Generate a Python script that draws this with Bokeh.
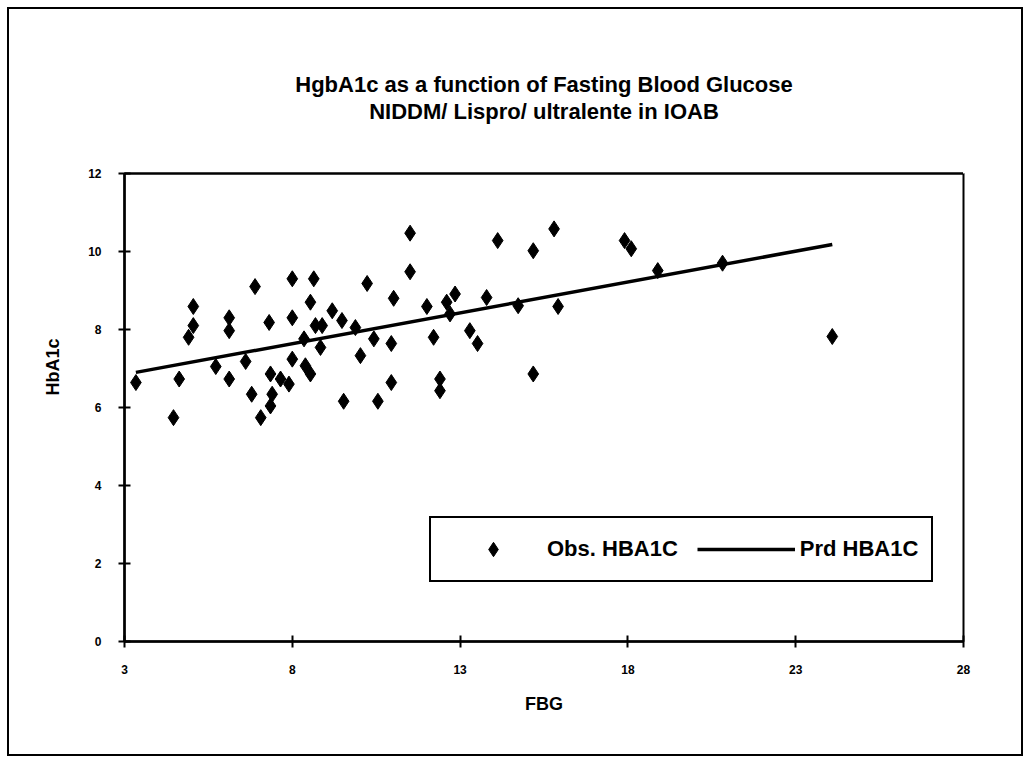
import math
from bokeh.plotting import figure
from bokeh.models import Range1d, FixedTicker, Legend, LegendItem, Title, LinearAxis
from bokeh.embed import file_html
from bokeh.resources import INLINE

# ---- data ----
fbg = [3.34, 4.63, 4.46, 5.05, 5.05, 4.91, 6.12, 6.12, 5.72, 6.12,
       6.61, 6.79, 6.89, 7.06, 7.31, 7.35, 7.40, 7.35, 7.65, 7.90,
       8.00, 8.00, 8.00, 8.35, 8.39, 8.54, 8.54, 8.64, 8.69, 8.89,
       8.84, 9.19, 9.48, 9.53, 9.88, 10.03, 10.23, 10.43, 10.55, 10.95,
       10.95, 11.02, 11.51, 11.51, 12.01, 12.21, 12.40, 12.40, 12.60, 12.85,
       12.70, 13.29, 13.52, 13.79, 14.12, 14.73, 15.18, 15.18, 15.80, 15.92,
       17.90, 18.10, 18.89, 20.82, 24.09]
hba1c = [6.64, 6.73, 5.74, 8.59, 8.10, 7.80, 8.30, 7.97, 7.05, 6.73,
         7.18, 6.34, 9.10, 5.74, 8.18, 6.86, 6.34, 6.04, 6.73, 6.60,
         9.30, 8.30, 7.24, 7.76, 7.07, 6.86, 8.70, 9.30, 8.10, 8.10,
         7.54, 8.48, 8.23, 6.16, 8.05, 7.33, 9.18, 7.76, 6.16, 7.64,
         6.64, 8.80, 10.47, 9.48, 8.59, 7.80, 6.73, 6.43, 8.70, 8.91,
         8.40, 7.97, 7.64, 8.82, 10.28, 8.61, 10.02, 6.86, 10.58, 8.59,
         10.28, 10.07, 9.51, 9.70, 7.82]
prd_fbg = [3.34, 24.09]
prd_hba1c = [6.90, 10.18]
x_ticks = [3, 8, 13, 18, 23, 28]
y_ticks = [0, 2, 4, 6, 8, 10, 12]
title_line1 = "HgbA1c as a function of Fasting Blood Glucose"
title_line2 = "NIDDM/ Lispro/ ultralente in IOAB"
x_title = "FBG"
y_title = "HbA1c"

FONT = "Liberation Sans"

p = figure(width=1012, height=745, output_backend="svg", toolbar_location=None,
           title=None,
           x_range=Range1d(3, 28), y_range=Range1d(0, 12),
           min_border_left=115, min_border_right=58, min_border_top=164,
           min_border_bottom=113, background_fill_color="white",
           border_fill_color="white", margin=(9, 0, 0, 9),
           styles={"outline": "2px solid black"})

p.xgrid.visible = False
p.ygrid.visible = False
p.outline_line_color = "black"
p.outline_line_width = 2

for ax, ticks in ((p.xaxis, x_ticks), (p.yaxis, y_ticks)):
    ax.ticker = FixedTicker(ticks=ticks)
    ax.axis_line_width = 2.5
    ax.axis_line_color = "black"
    ax.major_tick_in = 6
    ax.major_tick_out = 6
    ax.major_tick_line_width = 2
    ax.major_tick_line_color = "black"
    ax.minor_tick_line_color = None
    ax.major_label_text_font = FONT
    ax.major_label_text_font_size = "12px"
    ax.major_label_text_font_style = "bold"
    ax.major_label_text_color = "black"
    ax.major_label_standoff = 17

p.xaxis.axis_label = x_title
p.xaxis.axis_label_text_font = FONT
p.xaxis.axis_label_text_font_size = "18px"
p.xaxis.axis_label_text_font_style = "bold"
p.xaxis.axis_label_text_color = "black"
p.xaxis.axis_label_standoff = 17

# plot-area top border; its (white, unlabeled) tick keeps the titles clear of the frame
top_axis = LinearAxis(ticker=FixedTicker(ticks=[28]), axis_line_color="black",
                      axis_line_width=2, major_tick_in=0, major_tick_out=50,
                      major_tick_line_color="white", major_tick_line_width=1,
                      minor_tick_line_color=None, major_label_standoff=0,
                      major_label_text_color=None)
p.add_layout(top_axis, "above")

t2 = Title(text=title_line2, align="center", text_font=FONT, text_font_size="22px",
           text_font_style="bold", text_color="black", standoff=0)
t1 = Title(text=title_line1, align="center", text_font=FONT, text_font_size="22px",
           text_font_style="bold", text_color="black", standoff=0)
p.add_layout(t2, "above")
p.add_layout(t1, "above")

# y-axis title, placed above the axis centre as in the original
ty = Title(text=y_title, align="right", offset=165, text_font=FONT,
           text_font_size="18px", text_font_style="bold", text_color="black",
           standoff=46)
p.add_layout(ty, "left")

r_obs = p.scatter(fbg, hba1c, marker="diamond", size=16,
                  fill_color="black", line_color="black")
r_prd = p.line(prd_fbg, prd_hba1c, line_width=3.5, line_color="black")

legend = Legend(items=[LegendItem(label="Obs. HBA1C", renderers=[r_obs]),
                       LegendItem(label="Prd HBA1C", renderers=[r_prd])],
                orientation="horizontal", location=(305, 59),
                border_line_color="black", border_line_width=2, border_line_alpha=1,
                padding=13, spacing=19, glyph_width=98, glyph_height=36,
                label_standoff=5, label_text_font=FONT, label_text_font_size="22px",
                label_text_font_style="bold", label_text_color="black", margin=0,
                background_fill_color="white", background_fill_alpha=1)
p.add_layout(legend)

open("out.html", "w").write(file_html(p, INLINE))
